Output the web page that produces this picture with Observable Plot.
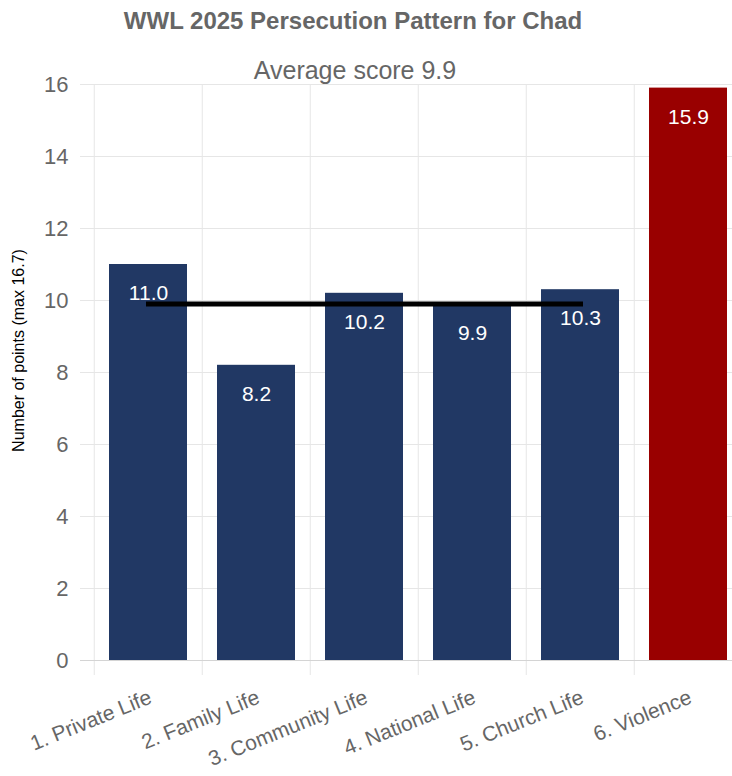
<!DOCTYPE html>
<html><head><meta charset="utf-8">
<script src="https://cdn.jsdelivr.net/npm/d3@7"></script>
<script src="https://cdn.jsdelivr.net/npm/@observablehq/plot@0.6"></script>
<style>
body{margin:0;background:#fff;overflow:hidden;font-family:"Liberation Sans",Arial,sans-serif;}
#header{position:relative;height:56px;width:732px;}
#title{position:absolute;left:0;width:706px;top:7px;text-align:center;font-weight:bold;font-size:24px;line-height:28px;color:#666;}
#subtitle{position:absolute;left:0;width:710px;top:56px;text-align:center;font-size:25px;line-height:28px;color:#666;z-index:2;}
#chart{position:relative;z-index:1;}
</style></head><body>
<div id="header"><div id="title">WWL 2025 Persecution Pattern for Chad</div><div id="subtitle">Average score 9.9</div></div>
<div id="chart"></div>
<script>
const categories = ["1. Private Life", "2. Family Life", "3. Community Life", "4. National Life", "5. Church Life", "6. Violence"];
const scores = [11.0, 8.2, 10.2, 9.9, 10.3, 15.9];
const barColors = ["#213864", "#213864", "#213864", "#213864", "#213864", "#990000"];
const average = 9.9;
const averageSpan = [categories[0], categories[4]];
const yTicks = [0, 2, 4, 6, 8, 10, 12, 14, 16];
const yLabel = "Number of points (max 16.7)";

const data = categories.map((c, i) => ({category: c, score: scores[i], color: barColors[i]}));
const avgPoints = averageSpan.map(c => ({category: c, value: average}));
const xRange = [92, 743];
const bw = (xRange[1] - xRange[0]) / categories.length;

const chart = Plot.plot({
  width: 732, height: 720,
  marginTop: 28, marginBottom: 116, marginLeft: 92, marginRight: 0,
  style: {fontFamily: "Liberation Sans, Arial, sans-serif", background: "transparent", overflow: "visible"},
  x: {domain: categories, range: xRange, padding: 0, axis: null},
  y: {domain: [0, 16], axis: null},
  marks: [
    Plot.gridY(yTicks, {stroke: "#e6e6e6", strokeOpacity: 1, insetLeft: -12}),
    Plot.ruleX(categories, {x: d => d, dx: -bw / 2, y1: 16, y2: 0, insetBottom: -15, stroke: "#e6e6e6"}),
    Plot.ruleY([0], {stroke: "#d4d4d4", insetLeft: -12}),
    Plot.barY(data, {x: "category", y: "score", fill: "color", insetLeft: 15, insetRight: 15}),
    Plot.line(avgPoints, {x: "category", y: "value", stroke: "black", strokeWidth: 5, strokeLinecap: "square"}),
    Plot.text(data, {x: "category", y: "score", text: d => d.score.toFixed(1), dy: 29, fill: "white", fontSize: 21}),
    Plot.axisY(yTicks, {tickSize: 0, tickPadding: 24, fontSize: 22, color: "#666", label: null}),
    Plot.axisX({tickSize: 0, tickRotate: -22, tickPadding: 36, dx: 2, fontSize: 21, color: "#666", label: null}),
    Plot.text([yLabel], {frameAnchor: "left", textAnchor: "middle", rotate: -90, dx: -74, dy: -22, fontSize: 16, fill: "black"})
  ]
});
document.getElementById("chart").appendChild(chart);
</script>
</body></html>
